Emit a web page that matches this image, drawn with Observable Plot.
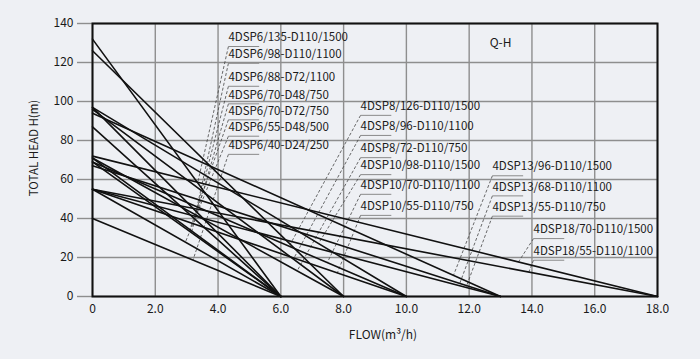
<!DOCTYPE html>
<html>
<head>
<meta charset="utf-8">
<script src="https://cdn.jsdelivr.net/npm/d3@7"></script>
<script src="https://cdn.jsdelivr.net/npm/@observablehq/plot@0.6"></script>
<style>
  html, body { margin: 0; padding: 0; background: #eef0f4; }
  #chart svg { display: block; }
</style>
</head>
<body>
<div id="chart"></div>
<script>
// ---- data ----
const flowTicks = [0, 2, 4, 6, 8, 10, 12, 14, 16, 18];
const flowTickLabels = ["0", "2.0", "4.0", "6.0", "8.0", "10.0", "12.0", "14.0", "16.0", "18.0"];
const headTicks = [0, 20, 40, 60, 80, 100, 120, 140];

const models = [
  "4DSP6/135-D110/1500", "4DSP6/98-D110/1100", "4DSP6/88-D72/1100", "4DSP6/70-D48/750",
  "4DSP6/70-D72/750", "4DSP6/55-D48/500", "4DSP6/40-D24/250",
  "4DSP8/126-D110/1500", "4DSP8/96-D110/1100", "4DSP8/72-D110/750",
  "4DSP10/98-D110/1500", "4DSP10/70-D110/1100", "4DSP10/55-D110/750",
  "4DSP13/96-D110/1500", "4DSP13/68-D110/1100", "4DSP13/55-D110/750",
  "4DSP18/70-D110/1500", "4DSP18/55-D110/1100"
];
// shut-off head (m) at zero flow, and max flow (m3/h) at zero head
const shutoffHead = [132, 97, 87, 69, 71, 55, 40, 126, 96, 71, 97, 69, 55, 94, 67, 55, 72, 55];
const maxFlow = [6, 6, 6, 6, 6, 6, 6, 8, 8, 8, 10, 10, 10, 13, 13, 13, 18, 18];

// annotation layout (in data units): label anchor and where the leader meets the curve
const labelFlow = [4.33, 4.33, 4.33, 4.33, 4.33, 4.33, 4.33, 8.54, 8.54, 8.54, 8.54, 8.54, 8.54, 12.74, 12.74, 12.74, 14.05, 14.05];
const labelHead = [128.2, 119.6, 107.8, 98.8, 90.6, 82.2, 72.9, 92.9, 82.6, 71.2, 62.5, 52.4, 41.6, 61.9, 51.6, 41.2, 29.7, 18.6];
const leaderFlow = [3.35, 3.3, 3.25, 3.15, 3.1, 2.96, 3.2, 6.3, 6.4, 6.52, 7.2, 7.48, 7.8, 11.5, 11.7, 11.9, 13.57, 13.9];

// ---- derived tables ----
const curves = models.flatMap((m, i) => [
  {model: m, q: 0, h: shutoffHead[i]},
  {model: m, q: maxFlow[i], h: 0}
]);
const notes = models.map((m, i) => ({
  model: m,
  lq: labelFlow[i],
  lh: labelHead[i],
  tq: leaderFlow[i],
  th: shutoffHead[i] * (1 - leaderFlow[i] / maxFlow[i])
}));
const tickLabel = new Map(flowTicks.map((d, i) => [d, flowTickLabels[i]]));

const font = "'Noto Sans CJK SC', 'Noto Sans', sans-serif";

const chart = Plot.plot({
  width: 700,
  height: 359,
  marginLeft: 92,
  marginRight: 43,
  marginTop: 23,
  marginBottom: 63,
  style: {background: "#eef0f4", fontFamily: font, fontSize: "11px", color: "#1a1a1a"},
  x: {domain: [0, 18]},
  y: {domain: [0, 140]},
  marks: [
    Plot.ruleX(flowTicks, {stroke: "#8e8e8e", strokeWidth: 1.4}),
    Plot.ruleY(headTicks, {stroke: "#8e8e8e", strokeWidth: 1.4}),
    Plot.axisY(headTicks, {tickSize: 15, tickPadding: 4, stroke: "#8e8e8e", strokeWidth: 1.4, fill: "#1a1a1a", fontSize: 12, label: null, tickFormat: d => String(d)}),
    Plot.axisX(flowTicks, {tickSize: 0, tickPadding: 8, fill: "#1a1a1a", fontSize: 12, label: null, tickFormat: d => tickLabel.get(d)}),
    // leaders and underlines
    Plot.link(notes, {x1: "lq", y1: "lh", x2: "tq", y2: "th", stroke: "#444", strokeWidth: 0.8, strokeDasharray: "3,2"}),
    Plot.link(notes, {x1: "lq", y1: "lh", x2: d => d.lq + 0.98, y2: "lh", stroke: "#8a8a8a", strokeWidth: 1}),
    Plot.text(notes, {x: "lq", y: "lh", text: "model", textAnchor: "start", lineAnchor: "middle", dy: -9, fill: "#1a1a1a", fontSize: 11.5}),
    // Q-H curves
    Plot.line(curves, {x: "q", y: "h", z: "model", stroke: "#111", strokeWidth: 1.6}),
    Plot.frame({stroke: "#111", strokeWidth: 2}),
    Plot.text(["Q-H"], {x: 13, y: 130, text: d => d, fontSize: 12, fill: "#1a1a1a"}),
    Plot.text(["FLOW(m³/h)"], {frameAnchor: "bottom", textAnchor: "middle", lineAnchor: "middle", dx: 8, dy: 39, text: d => d, fontSize: 12, fill: "#1a1a1a"}),
    Plot.text(["TOTAL HEAD H(m)"], {frameAnchor: "left", textAnchor: "middle", lineAnchor: "middle", dx: -58, dy: -12, rotate: -90, text: d => d, fontSize: 11.5, fill: "#1a1a1a"})
  ]
});
document.getElementById("chart").append(chart);
</script>
</body>
</html>
